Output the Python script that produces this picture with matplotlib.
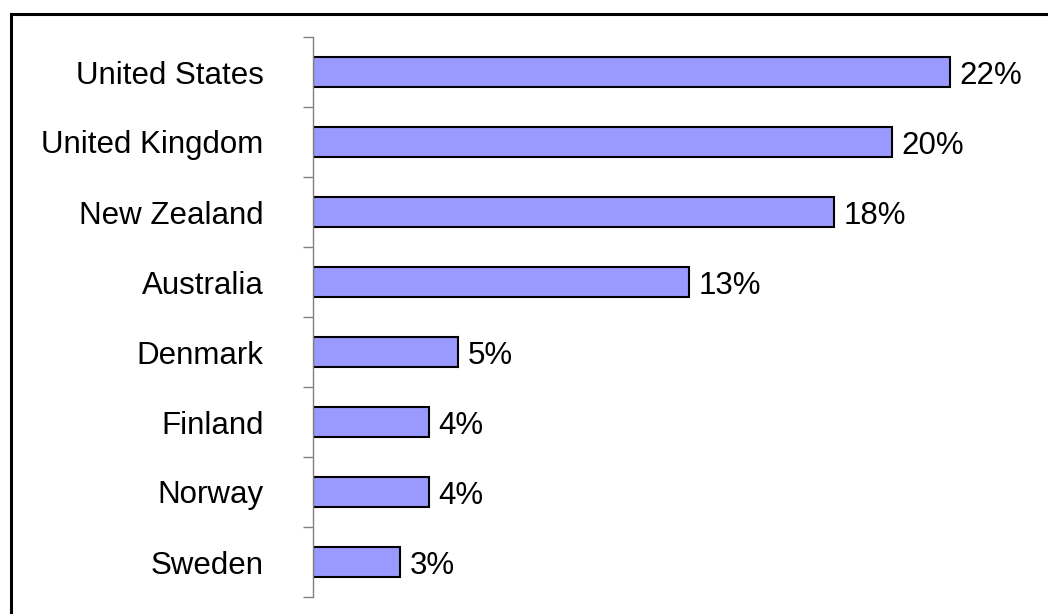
import matplotlib.pyplot as plt
from matplotlib.patches import Rectangle

countries = ["United States", "United Kingdom", "New Zealand", "Australia",
             "Denmark", "Finland", "Norway", "Sweden"]
shares = [22, 20, 18, 13, 5, 4, 4, 3]
share_labels = ["22%", "20%", "18%", "13%", "5%", "4%", "4%", "3%"]

plt.rcParams['font.family'] = ['Liberation Sans', 'DejaVu Sans']

fig = plt.figure(figsize=(10.48, 6.14), dpi=100)
ax = fig.add_axes([313 / 1048, 17 / 614, 1 - 313 / 1048, 560 / 614])

# outer frame, runs off the right and bottom edges
fig.patches.append(Rectangle((11 / 1048, -0.1), 1.2, (614 - 14) / 614 + 0.1,
                             transform=fig.transFigure, fill=False,
                             edgecolor="black", linewidth=2.2))

pos = list(range(len(countries)))
ax.barh(pos, shares, height=0.43, color="#9999FF", edgecolor="black", linewidth=1.5)

for p, v, lab in zip(pos, shares, share_labels):
    ax.annotate(lab, (v, p), xytext=(7, 0), textcoords="offset points",
                va="center_baseline", ha="left", fontsize=22.5)

ax.set_ylim(len(countries) - 0.5, -0.5)
ax.set_xlim(0, 25.39)

ax.set_yticks([p - 0.5 for p in pos] + [len(countries) - 0.5])
ax.set_yticks(pos, minor=True)
ax.set_yticklabels([])
ax.set_yticklabels(countries, minor=True, fontsize=22.5)
for t in ax.get_yticklabels(minor=True):
    t.set_verticalalignment("center_baseline")
ax.tick_params(axis="y", which="major", length=7, width=1, color="#808080")
ax.tick_params(axis="y", which="minor", length=0, pad=35.5)
ax.set_xticks([])

for s in ["top", "right", "bottom"]:
    ax.spines[s].set_visible(False)
ax.spines["left"].set_color("#808080")
ax.spines["left"].set_linewidth(1)

fig.savefig("out.png", dpi=100)
